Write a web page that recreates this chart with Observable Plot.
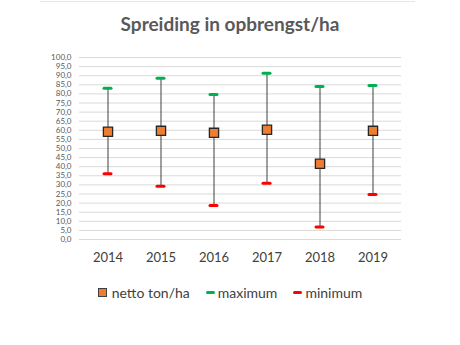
<!DOCTYPE html>
<html>
<head>
<meta charset="utf-8">
<script src="https://cdn.jsdelivr.net/npm/d3@7"></script>
<script src="https://cdn.jsdelivr.net/npm/@observablehq/plot@0.6"></script>
<style>
  html, body { margin: 0; padding: 0; background: #fff; }
  #wrap { position: relative; width: 460px; height: 345px; overflow: hidden; font-family: Lato, "Open Sans", sans-serif; }
  #topline { position: absolute; left: 40px; top: 1px; width: 375px; height: 1px; background: #e6e6e6; }
  #title { position: absolute; left: 0; width: 460px; top: 12px; text-align: center; font-size: 19px; font-weight: bold; color: #595959; }
  #chart { position: absolute; left: 0; top: 40px; }
  #legend { position: absolute; left: 0; width: 460px; top: 284px; display: flex; justify-content: center; align-items: center; font-size: 14px; color: #404040; }
  .item { display: flex; align-items: center; margin: 0 8px; }
  .sq { width: 7px; height: 7px; background: #ed7d31; border: 1px solid #404040; margin-right: 5px; }
  .dash { width: 9px; height: 3px; border-radius: 2px; margin-right: 3px; }
</style>
</head>
<body>
<div id="wrap">
  <div id="topline"></div>
  <div id="title">Spreiding in opbrengst/ha</div>
  <div id="chart"></div>
  <div id="legend"></div>
</div>
<script>
const years = ["2014", "2015", "2016", "2017", "2018", "2019"];
const netto = [59.2, 59.7, 58.6, 60.3, 41.6, 59.7];
const maximum = [83.1, 88.6, 79.7, 91.4, 84.1, 84.6];
const minimum = [36.1, 29.3, 18.7, 30.9, 6.8, 24.7];
const yTicks = d3.range(0, 101, 5);
const legendLabels = ["netto ton/ha", "maximum", "minimum"];

const data = years.map((y, i) => ({year: y, netto: netto[i], max: maximum[i], min: minimum[i]}));
const fmt = v => v.toFixed(1).replace(".", ",");

const chart = Plot.plot({
  width: 460,
  height: 229,
  marginTop: 17,
  marginBottom: 30,
  marginLeft: 79,
  marginRight: 59,
  style: {fontFamily: "Lato, 'Open Sans', sans-serif", background: "transparent"},
  x: {type: "band", domain: years, padding: 0, label: null},
  y: {domain: [0, 100], ticks: yTicks, label: null},
  marks: [
    Plot.ruleY(yTicks, {stroke: "#d9d9d9", strokeWidth: 1, strokeOpacity: 1}),
    Plot.axisY({ticks: yTicks, tickFormat: fmt, tickSize: 0, tickPadding: 8, fontSize: 8, fill: "#595959", label: null}),
    Plot.axisX({tickSize: 0, tickPadding: 13, fontSize: 13, fill: "#404040", label: null}),
    Plot.ruleX(data, {x: "year", y1: "min", y2: "max", stroke: "#404040", strokeWidth: 1}),
    Plot.tickY(data, {x: "year", y: "max", stroke: "#00b050", strokeWidth: 3, strokeLinecap: "round", insetLeft: 23, insetRight: 23}),
    Plot.tickY(data, {x: "year", y: "min", stroke: "#ff0000", strokeWidth: 3, strokeLinecap: "round", insetLeft: 23, insetRight: 23}),
    Plot.dot(data, {x: "year", y: "netto", symbol: "square", r: 5.2, fill: "#ed7d31", stroke: "#262626", strokeWidth: 1.3})
  ]
});
document.getElementById("chart").appendChild(chart);

const legend = document.getElementById("legend");
const swatches = [
  '<span class="sq"></span>',
  '<span class="dash" style="background:#00b050"></span>',
  '<span class="dash" style="background:#ff0000"></span>'
];
legendLabels.forEach((lab, i) => {
  const d = document.createElement("div");
  d.className = "item";
  d.innerHTML = swatches[i] + "<span>" + lab + "</span>";
  legend.appendChild(d);
});
</script>
</body>
</html>
